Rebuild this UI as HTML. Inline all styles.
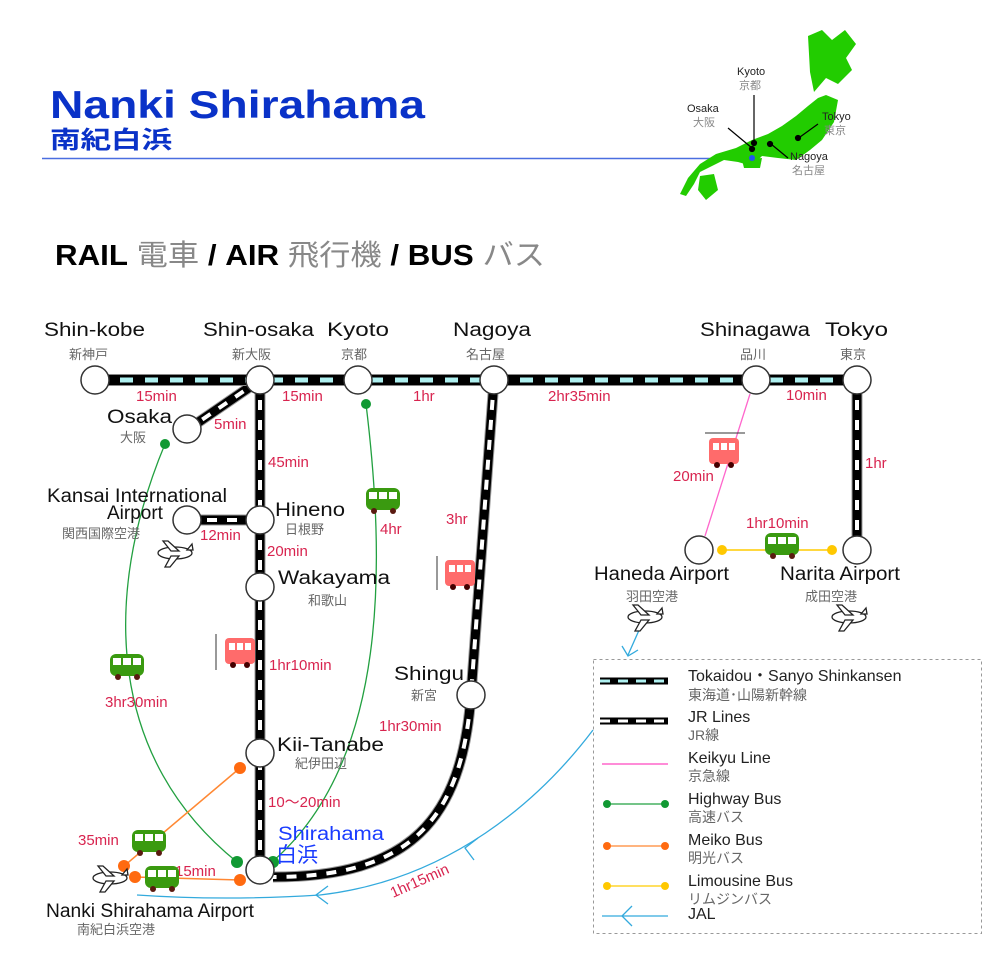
<!DOCTYPE html>
<html><head><meta charset="utf-8"><style>
html,body{margin:0;padding:0;background:#fff;}
svg{display:block;font-family:"Liberation Sans","Noto Sans CJK JP",sans-serif;}
.n{font-size:19px;fill:#111;}
.j{font-size:13px;fill:#666;}
.t{font-size:15px;fill:#d8244f;}
.lg{font-size:16px;fill:#222;}
.lj{font-size:14px;fill:#666;}
</style></head><body>
<svg width="996" height="966" viewBox="0 0 996 966" xmlns="http://www.w3.org/2000/svg">
<defs>
<g id="bus">
<rect x="0" y="0" width="34" height="22" rx="6" fill="#3a9a10"/>
<rect x="3" y="4" width="8" height="7" fill="#fff"/><rect x="13" y="4" width="8" height="7" fill="#fff"/><rect x="23" y="4" width="8" height="7" fill="#fff"/>
<circle cx="8" cy="23" r="3" fill="#5a1a10"/><circle cx="27" cy="23" r="3" fill="#5a1a10"/>
</g>
<g id="train">
<rect x="0" y="0" width="30" height="26" rx="4" fill="#ff6b6b"/>
<rect x="4" y="5" width="6" height="7" fill="#fff"/><rect x="12" y="5" width="6" height="7" fill="#fff"/><rect x="20" y="5" width="6" height="7" fill="#fff"/>
<circle cx="8" cy="27" r="3" fill="#400"/><circle cx="22" cy="27" r="3" fill="#400"/>
</g>
<g id="plane" fill="#fff" stroke="#222" stroke-width="1.3">
<ellipse cx="18" cy="12" rx="17" ry="6"/>
<path d="M14 10 L6 0 L11 0 L22 10Z"/><path d="M14 15 L8 26 L13 26 L22 15Z"/>
<path d="M30 9 L35 3 L36 9Z"/>
</g>
</defs>

<text x="50" y="118" font-size="39" font-weight="bold" fill="#0a32c8" textLength="375" lengthAdjust="spacingAndGlyphs">Nanki Shirahama</text>
<text x="50" y="148" font-size="24" font-weight="bold" fill="#0a32c8" textLength="122" lengthAdjust="spacingAndGlyphs">南紀白浜</text>
<line x1="42" y1="158.5" x2="752" y2="158.5" stroke="#4a6ee0" stroke-width="1.5"/>

<g fill="#22cc00">
<path d="M808 36 L822 30 L832 40 L845 30 L856 44 L846 58 L852 70 L838 84 L826 78 L814 92 L810 72 Z"/>
<path d="M826 95 L838 100 L834 122 L822 140 L810 150 L796 160 L778 158 L762 156 L752 166 L738 162 L724 160 L712 166 L700 172 L694 184 L686 196 L680 194 L688 178 L700 164 L716 154 L736 148 L752 140 L768 134 L782 126 L796 116 L808 106 L818 98 Z"/>
<path d="M700 176 L714 174 L718 190 L706 200 L698 190Z"/>
<path d="M742 160 L762 158 L760 168 L744 168Z"/>
</g>
<g stroke="#000" stroke-width="1.2" fill="#000">
<line x1="754" y1="95" x2="754" y2="142"/><circle cx="754" cy="143" r="2.5"/>
<line x1="728" y1="128" x2="752" y2="148"/><circle cx="752" cy="149" r="2.5"/>
<line x1="771" y1="144" x2="788" y2="158"/><circle cx="770" cy="144" r="2.5"/>
<line x1="818" y1="124" x2="800" y2="137"/><circle cx="798" cy="138" r="2.5"/>
</g>
<circle cx="752" cy="158" r="3" fill="#2255ee"/>
<g font-size="11"><text x="737" y="75" fill="#222">Kyoto</text><text x="739" y="89" fill="#888">京都</text>
<text x="687" y="112" fill="#222">Osaka</text><text x="693" y="126" fill="#888">大阪</text>
<text x="822" y="120" fill="#222">Tokyo</text><text x="824" y="134" fill="#888">東京</text>
<text x="790" y="160" fill="#222">Nagoya</text><text x="792" y="174" fill="#888">名古屋</text></g>

<text x="55" y="265" font-size="29" textLength="490" lengthAdjust="spacingAndGlyphs"><tspan fill="#000" font-weight="bold">RAIL</tspan><tspan fill="#888"> 電車 </tspan><tspan fill="#000" font-weight="bold">/ AIR</tspan><tspan fill="#888"> 飛行機 </tspan><tspan fill="#000" font-weight="bold">/ BUS</tspan><tspan fill="#888"> バス</tspan></text>

<g stroke="#33aadd" stroke-width="1.3" fill="none">
<path d="M640 628 L628 655"/>
<path d="M593 730 C540 800 450 880 320 895 C240 900 180 898 137 895"/>
<path d="M478 838 L465 848 L474 860"/>
<path d="M328 886 L316 895 L328 904"/>
<path d="M622 646 L628 656 L638 650"/>
</g>

<g stroke="#22a040" stroke-width="1.3" fill="none">
<path d="M165 444 C100 600 110 760 237 862"/>
<path d="M366 404 C385 560 390 760 272 862"/>
</g>
<g fill="#119933"><circle cx="165" cy="444" r="5"/><circle cx="366" cy="404" r="5"/><circle cx="237" cy="862" r="6"/><circle cx="273" cy="862" r="6"/></g>

<line x1="750" y1="394" x2="705" y2="536" stroke="#ff66cc" stroke-width="1.3"/>
<line x1="722" y1="550" x2="832" y2="550" stroke="#ffcc00" stroke-width="1.5"/>
<circle cx="722" cy="550" r="5" fill="#ffc800"/><circle cx="832" cy="550" r="5" fill="#ffc800"/>
<g stroke="#ff8833" stroke-width="1.5"><line x1="240" y1="768" x2="124" y2="866"/><line x1="134" y1="877" x2="240" y2="880"/></g>
<g fill="#ff6a10"><circle cx="240" cy="768" r="6"/><circle cx="124" cy="866" r="6"/><circle cx="135" cy="877" r="6"/><circle cx="240" cy="880" r="6"/></g>

<g fill="none" stroke-linecap="butt">
<g stroke="#999" stroke-width="11">
<path d="M260 380 L187 430"/><path d="M260 380 L260 870"/><path d="M187 520 L260 520"/>
<path d="M494 380 L471 695 C462 820 410 877 273 877"/><path d="M857 380 L857 550"/>
</g>
<g stroke="#000" stroke-width="9">
<path d="M260 380 L187 430"/><path d="M260 380 L260 870"/><path d="M187 520 L260 520"/>
<path d="M494 380 L471 695 C462 820 410 877 273 877"/><path d="M857 380 L857 550"/>
</g>
<g stroke="#fff" stroke-width="4" stroke-dasharray="10 10">
<path d="M260 380 L187 430"/><path d="M260 380 L260 870"/><path d="M187 520 L260 520"/>
<path d="M494 380 L471 695 C462 820 410 877 273 877"/><path d="M857 380 L857 550"/>
</g>
<line x1="95" y1="380" x2="857" y2="380" stroke="#888" stroke-width="12"/>
<line x1="95" y1="380" x2="857" y2="380" stroke="#000" stroke-width="10"/>
<line x1="95" y1="380" x2="857" y2="380" stroke="#aef0f0" stroke-width="5" stroke-dasharray="13 12"/>
</g>

<g fill="#fff" stroke="#333" stroke-width="1.5">
<circle cx="95" cy="380" r="14"/><circle cx="260" cy="380" r="14"/><circle cx="358" cy="380" r="14"/><circle cx="494" cy="380" r="14"/>
<circle cx="756" cy="380" r="14"/><circle cx="857" cy="380" r="14"/>
<circle cx="187" cy="429" r="14"/><circle cx="187" cy="520" r="14"/><circle cx="260" cy="520" r="14"/>
<circle cx="260" cy="587" r="14"/><circle cx="260" cy="753" r="14"/><circle cx="260" cy="870" r="14"/>
<circle cx="471" cy="695" r="14"/><circle cx="699" cy="550" r="14"/><circle cx="857" cy="550" r="14"/>
</g>

<g lengthAdjust="spacingAndGlyphs">
<text class="n" x="44" y="336" textLength="101" lengthAdjust="spacingAndGlyphs">Shin-kobe</text><text class="j" x="69" y="359">新神戸</text>
<text class="n" x="203" y="336" textLength="111" lengthAdjust="spacingAndGlyphs">Shin-osaka</text><text class="j" x="232" y="359">新大阪</text>
<text class="n" x="327" y="336" textLength="62" lengthAdjust="spacingAndGlyphs">Kyoto</text><text class="j" x="341" y="359">京都</text>
<text class="n" x="453" y="336" textLength="78" lengthAdjust="spacingAndGlyphs">Nagoya</text><text class="j" x="466" y="359">名古屋</text>
<text class="n" x="700" y="336" textLength="110" lengthAdjust="spacingAndGlyphs">Shinagawa</text><text class="j" x="740" y="359">品川</text>
<text class="n" x="825" y="336" textLength="63" lengthAdjust="spacingAndGlyphs">Tokyo</text><text class="j" x="840" y="359">東京</text>
<text class="n" x="107" y="423" textLength="65" lengthAdjust="spacingAndGlyphs">Osaka</text><text class="j" x="120" y="442">大阪</text>
<text class="n" x="47" y="502" font-size="17" textLength="180" lengthAdjust="spacingAndGlyphs">Kansai International</text>
<text class="n" x="107" y="519" font-size="17">Airport</text>
<text class="j" x="62" y="538">関西国際空港</text>
<text class="n" x="275" y="516" textLength="70" lengthAdjust="spacingAndGlyphs">Hineno</text><text class="j" x="285" y="534">日根野</text>
<text class="n" x="278" y="584" textLength="112" lengthAdjust="spacingAndGlyphs">Wakayama</text><text class="j" x="308" y="605">和歌山</text>
<text class="n" x="394" y="680" textLength="70" lengthAdjust="spacingAndGlyphs">Shingu</text><text class="j" x="411" y="700">新宮</text>
<text class="n" x="277" y="751" textLength="107" lengthAdjust="spacingAndGlyphs">Kii-Tanabe</text><text class="j" x="295" y="768">紀伊田辺</text>
<text x="278" y="840" font-size="19" fill="#1a3cff" textLength="106" lengthAdjust="spacingAndGlyphs">Shirahama</text>
<text x="276" y="862" font-size="21" fill="#1a3cff">白浜</text>
<text class="n" x="594" y="580" font-size="17" textLength="135" lengthAdjust="spacingAndGlyphs">Haneda Airport</text><text class="j" x="626" y="601">羽田空港</text>
<text class="n" x="780" y="580" font-size="17" textLength="120" lengthAdjust="spacingAndGlyphs">Narita Airport</text><text class="j" x="805" y="601">成田空港</text>
<text class="n" x="46" y="917" font-size="16" textLength="208" lengthAdjust="spacingAndGlyphs">Nanki Shirahama Airport</text><text class="j" x="77" y="934">南紀白浜空港</text>
</g>

<text class="t" x="136" y="401">15min</text>
<text class="t" x="282" y="401">15min</text>
<text class="t" x="413" y="401">1hr</text>
<text class="t" x="548" y="401">2hr35min</text>
<text class="t" x="786" y="400">10min</text>
<text class="t" x="214" y="429">5min</text>
<text class="t" x="268" y="467">45min</text>
<text class="t" x="200" y="540">12min</text>
<text class="t" x="267" y="556">20min</text>
<text class="t" x="380" y="534">4hr</text>
<text class="t" x="446" y="524">3hr</text>
<text class="t" x="865" y="468">1hr</text>
<text class="t" x="673" y="481">20min</text>
<text class="t" x="746" y="528">1hr10min</text>
<text class="t" x="269" y="670">1hr10min</text>
<text class="t" x="105" y="707">3hr30min</text>
<text class="t" x="379" y="731">1hr30min</text>
<text class="t" x="268" y="807">10～20min</text>
<text class="t" x="78" y="845">35min</text>
<text class="t" x="175" y="876">15min</text>
<text class="t" x="393" y="898" transform="rotate(-24 393 898)">1hr15min</text>

<use href="#bus" x="366" y="488"/>
<use href="#bus" x="110" y="654"/>
<use href="#bus" x="132" y="830"/>
<use href="#bus" x="145" y="866"/>
<use href="#bus" x="765" y="533"/>
<use href="#train" x="709" y="438"/>
<line x1="705" y1="433" x2="745" y2="433" stroke="#333"/>
<use href="#train" x="225" y="638"/>
<line x1="216" y1="634" x2="216" y2="670" stroke="#333"/>
<use href="#train" x="445" y="560"/>
<line x1="437" y1="556" x2="437" y2="590" stroke="#333"/>
<use href="#plane" x="157" y="541"/>
<use href="#plane" x="92" y="866"/>
<use href="#plane" x="627" y="605"/>
<use href="#plane" x="831" y="605"/>

<rect x="593.5" y="659.5" width="388" height="274" fill="none" stroke="#999" stroke-dasharray="3 3"/>
<g>
<line x1="600" y1="681" x2="668" y2="681" stroke="#000" stroke-width="7"/>
<line x1="600" y1="681" x2="668" y2="681" stroke="#aef0f0" stroke-width="3" stroke-dasharray="10 8"/>
<line x1="600" y1="721" x2="668" y2="721" stroke="#000" stroke-width="7"/>
<line x1="600" y1="721" x2="668" y2="721" stroke="#fff" stroke-width="3" stroke-dasharray="10 8"/>
<line x1="602" y1="764" x2="668" y2="764" stroke="#ff66cc" stroke-width="1.5"/>
<line x1="607" y1="804" x2="665" y2="804" stroke="#22a040" stroke-width="1.3"/><circle cx="607" cy="804" r="4" fill="#119933"/><circle cx="665" cy="804" r="4" fill="#119933"/>
<line x1="607" y1="846" x2="665" y2="846" stroke="#ff8833" stroke-width="1.3"/><circle cx="607" cy="846" r="4" fill="#ff6a10"/><circle cx="665" cy="846" r="4" fill="#ff6a10"/>
<line x1="607" y1="886" x2="665" y2="886" stroke="#ffcc00" stroke-width="1.3"/><circle cx="607" cy="886" r="4" fill="#ffc800"/><circle cx="665" cy="886" r="4" fill="#ffc800"/>
<line x1="602" y1="916" x2="668" y2="916" stroke="#33aadd" stroke-width="1.3"/><path d="M632 906 L622 916 L632 926" fill="none" stroke="#33aadd" stroke-width="1.3"/>
</g>
<text class="lg" x="688" y="681">Tokaidou・Sanyo Shinkansen</text><text class="lj" x="688" y="700">東海道･山陽新幹線</text>
<text class="lg" x="688" y="722">JR Lines</text><text class="lj" x="688" y="740">JR線</text>
<text class="lg" x="688" y="763">Keikyu Line</text><text class="lj" x="688" y="781">京急線</text>
<text class="lg" x="688" y="804">Highway Bus</text><text class="lj" x="688" y="822">高速バス</text>
<text class="lg" x="688" y="845">Meiko Bus</text><text class="lj" x="688" y="863">明光バス</text>
<text class="lg" x="688" y="886">Limousine Bus</text><text class="lj" x="688" y="904">リムジンバス</text>
<text class="lg" x="688" y="919" fill="#000">JAL</text>
</svg>
</body></html>
